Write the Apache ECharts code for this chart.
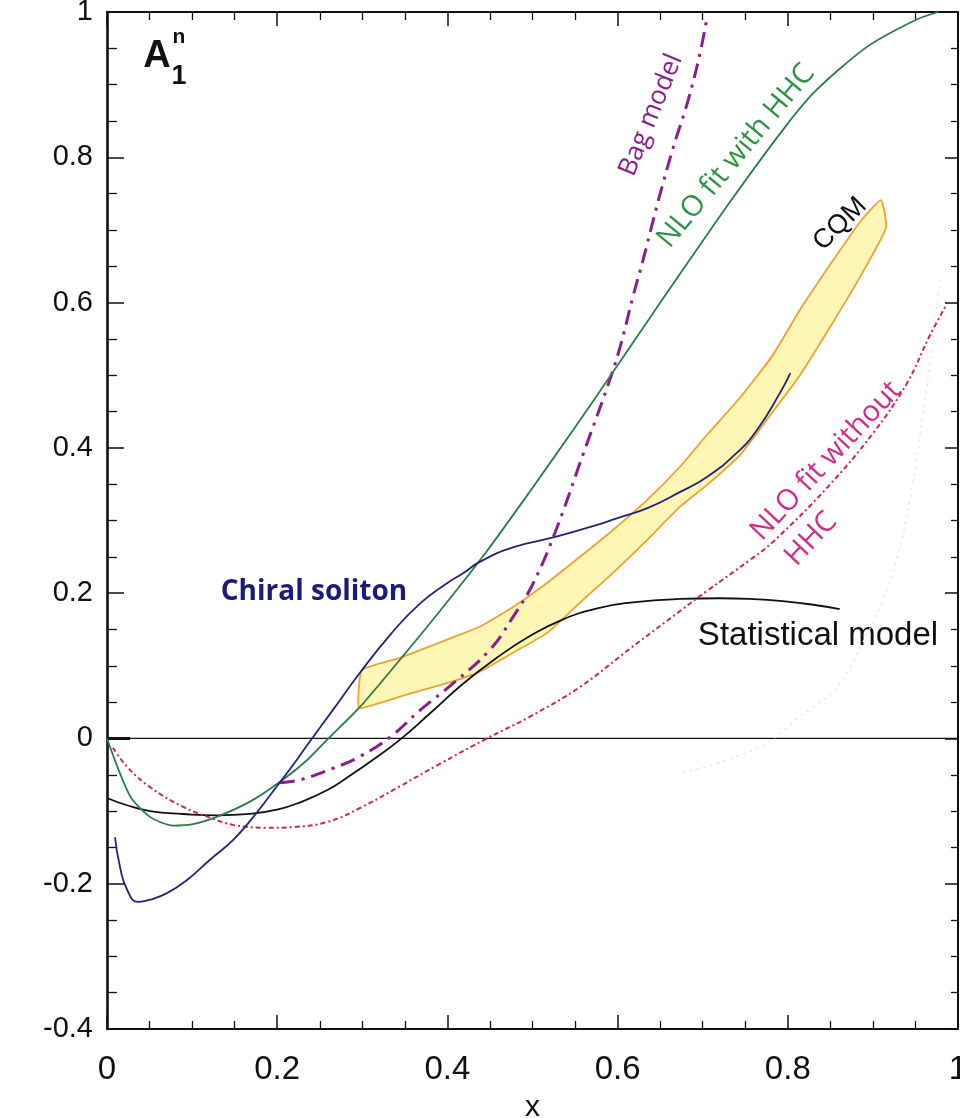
<!DOCTYPE html>
<html>
<head>
<meta charset="utf-8">
<script src="https://cdn.jsdelivr.net/npm/echarts@6/dist/echarts.min.js"></script>
<style>
  html, body { margin: 0; padding: 0; background: #ffffff; }
  #chart { width: 960px; height: 1118px; }
</style>
</head>
<body>
<div id="chart"></div>
<script>
// Neutron spin asymmetry A1^n versus x: model predictions and fits.

const xTickLabels = ['0', '0.2', '0.4', '0.6', '0.8', '1'];
const yTickLabels = ['-0.4', '-0.2', '0', '0.2', '0.4', '0.6', '0.8', '1'];

// NLO fit with hadron helicity conservation
const nloWithHHC = [
  [0, 0], [0.027, -0.079], [0.0505, -0.108], [0.0776, -0.120], [0.101, -0.118],
  [0.129, -0.108], [0.168, -0.087], [0.203, -0.060], [0.235, -0.030], [0.2585, -0.002],
  [0.297, 0.043], [0.344, 0.108], [0.391, 0.175], [0.4465, 0.258], [0.497, 0.340],
  [0.548, 0.425], [0.595, 0.505], [0.635, 0.574], [0.673, 0.639], [0.736, 0.745],
  [0.799, 0.845], [0.834, 0.893], [0.893, 0.952], [0.952, 0.990], [0.977, 1.0]
];

// NLO fit without hadron helicity conservation
const nloWithoutHHC = [
  [0.007, -0.013], [0.0235, -0.039], [0.0505, -0.067], [0.089, -0.094], [0.121, -0.109],
  [0.148, -0.119], [0.188, -0.123], [0.219, -0.122], [0.259, -0.115], [0.297, -0.096],
  [0.344, -0.066], [0.391, -0.035], [0.4465, 0.0], [0.497, 0.030], [0.556, 0.071],
  [0.615, 0.124], [0.673, 0.175], [0.705, 0.203], [0.756, 0.246], [0.783, 0.271],
  [0.846, 0.345], [0.900, 0.420], [0.940, 0.489], [0.967, 0.555], [0.985, 0.594]
];

// Chiral soliton model
const chiralSoliton = [
  [0.0094, -0.136], [0.0153, -0.177], [0.0235, -0.208], [0.0364, -0.225], [0.0505, -0.222],
  [0.0705, -0.213], [0.094, -0.195], [0.121, -0.167], [0.148, -0.140], [0.172, -0.108],
  [0.195, -0.073], [0.219, -0.036], [0.236, -0.008], [0.266, 0.040], [0.297, 0.090],
  [0.333, 0.143], [0.368, 0.186], [0.400, 0.214], [0.418, 0.227], [0.438, 0.243],
  [0.477, 0.263], [0.529, 0.278], [0.576, 0.294], [0.599, 0.303], [0.635, 0.317],
  [0.673, 0.339], [0.705, 0.360], [0.740, 0.393], [0.764, 0.425], [0.791, 0.476],
  [0.803, 0.503]
];

// Statistical model
const statisticalModel = [
  [0, -0.082], [0.0235, -0.092], [0.0505, -0.100], [0.089, -0.104], [0.129, -0.106],
  [0.168, -0.104], [0.200, -0.098], [0.227, -0.088], [0.259, -0.071], [0.282, -0.054],
  [0.313, -0.029], [0.344, -0.002], [0.380, 0.035], [0.418, 0.075], [0.458, 0.111],
  [0.497, 0.141], [0.536, 0.164], [0.576, 0.179], [0.615, 0.187], [0.673, 0.192],
  [0.720, 0.193], [0.756, 0.192], [0.794, 0.189], [0.830, 0.184], [0.861, 0.178]
];

// Bag model
const bagModel = [
  [0.203, -0.061], [0.227, -0.057], [0.266, -0.041], [0.297, -0.025], [0.333, 0.002],
  [0.368, 0.039], [0.407, 0.076], [0.450, 0.122], [0.477, 0.167], [0.501, 0.214],
  [0.529, 0.291], [0.560, 0.393], [0.588, 0.484], [0.603, 0.539], [0.618, 0.608],
  [0.630, 0.659], [0.648, 0.741], [0.665, 0.812], [0.683, 0.879], [0.697, 0.944],
  [0.705, 0.992]
];

// Constituent quark model band: upper and lower edges
const cqmUpper = [
  [0.2996, 0.094], [0.3443, 0.111], [0.3995, 0.136], [0.4383, 0.154], [0.4771, 0.181],
  [0.5170, 0.214], [0.5558, 0.250], [0.5946, 0.287], [0.6345, 0.328], [0.6733, 0.374],
  [0.7051, 0.418], [0.7438, 0.469], [0.7826, 0.528], [0.8143, 0.590], [0.8496, 0.652],
  [0.8848, 0.711], [0.9095, 0.741]
];
const cqmLower = [
  [0.2961, 0.042], [0.3208, 0.049], [0.3596, 0.063], [0.3995, 0.076], [0.4383, 0.092],
  [0.4771, 0.118], [0.5170, 0.145], [0.5558, 0.187], [0.5946, 0.228], [0.6345, 0.273],
  [0.6733, 0.319], [0.7051, 0.349], [0.7438, 0.390], [0.7756, 0.439], [0.8143, 0.500],
  [0.8531, 0.573], [0.8848, 0.635], [0.9154, 0.703]
];

// Faint dotted trace on the right
const faintTrace = [
  [0.677, -0.047], [0.767, -0.012], [0.814, 0.030], [0.858, 0.071], [0.888, 0.132],
  [0.912, 0.191], [0.928, 0.246], [0.944, 0.333], [0.964, 0.490], [0.979, 0.632]
];

const zeroLine = [[0, 0], [1, 0]];
const originStub = [[0, 0], [0.027, 0]];

const X_MIN = 0, X_MAX = 1, X_STEP = 0.2;
const Y_MIN = -0.4, Y_MAX = 1, Y_STEP = 0.2;

const axisColor = '#111111';
const tickFont = 'Liberation Sans, Arial, sans-serif';
const humanist = '"Open Sans", "Noto Sans", sans-serif';

function xLabel(v) { return xTickLabels[Math.round((v - X_MIN) / X_STEP)] ?? ''; }
function yLabel(v) { return yTickLabels[Math.round((v - Y_MIN) / Y_STEP)] ?? ''; }

function xAxisDef(pos, showLabels) {
  return {
    type: 'value', position: pos, min: X_MIN, max: X_MAX, interval: X_STEP,
    axisLine: { show: true, onZero: false, lineStyle: { color: axisColor, width: 2 } },
    axisTick: { show: true, inside: true, length: 14, lineStyle: { color: axisColor, width: 1.5 } },
    minorTick: { show: true, splitNumber: 4, length: 8, lineStyle: { color: axisColor, width: 1.3 } },
    splitLine: { show: false },
    axisLabel: {
      show: showLabels, formatter: xLabel, color: axisColor,
      fontFamily: tickFont, fontSize: 33, margin: 24
    },
    name: showLabels ? 'x' : '', nameLocation: 'middle', nameGap: 64,
    nameTextStyle: { color: axisColor, fontFamily: tickFont, fontSize: 30 }
  };
}

function yAxisDef(pos, showLabels, lineWidth, major, minor) {
  return {
    type: 'value', position: pos, min: Y_MIN, max: Y_MAX, interval: Y_STEP,
    axisLine: { show: true, onZero: false, lineStyle: { color: axisColor, width: lineWidth } },
    axisTick: { show: true, inside: true, length: major, lineStyle: { color: axisColor, width: 1.5 } },
    minorTick: { show: true, splitNumber: 4, length: minor, lineStyle: { color: axisColor, width: 1.3 } },
    splitLine: { show: false },
    axisLabel: {
      show: showLabels, formatter: yLabel, color: axisColor,
      fontFamily: tickFont, fontSize: 29, margin: 14
    }
  };
}

function curve(name, data, color, width, type, smooth, z) {
  return {
    name, type: 'line', data, xAxisIndex: 0, yAxisIndex: 0,
    showSymbol: false, symbol: 'none', smooth: smooth, z: z || 3,
    lineStyle: { color, width, type },
    emphasis: { disabled: true }, silent: true
  };
}

const chart = echarts.init(document.getElementById('chart'), null, { renderer: 'canvas' });

const option = {
  animation: false,
  backgroundColor: '#ffffff',
  grid: { left: 107, right: 2, top: 12, bottom: 89, containLabel: false, outerBoundsMode: 'none' },
  xAxis: [xAxisDef('bottom', true), xAxisDef('top', false)],
  yAxis: [yAxisDef('left', true, 2.6, 17, 10), yAxisDef('right', false, 2, 13, 7)],
  series: [
    {
      name: 'CQM', type: 'custom', xAxisIndex: 0, yAxisIndex: 0, z: 1, silent: true,
      data: [[0.6, 0.4]],
      renderItem: function (params, api) {
        const pts = cqmUpper.map(p => api.coord(p))
          .concat(cqmLower.slice().reverse().map(p => api.coord(p)));
        return {
          type: 'polygon',
          shape: { points: pts, smooth: 0.15 },
          style: { fill: '#fdf6b4', stroke: '#eda232', lineWidth: 1.8, lineJoin: 'miter' }
        };
      }
    },
    curve('zero', zeroLine, '#111111', 1.3, 'solid', false, 2),
    curve('origin', originStub, '#111111', 3, 'solid', false, 2),
    curve('faint', faintTrace, '#e3e3e3', 1.5, [2, 5], 0.4, 2),
    curve('Statistical model', statisticalModel, '#111111', 1.8, 'solid', 0.5),
    curve('NLO fit without HHC', nloWithoutHHC, '#d2225c', 2, [5, 3, 2, 3], 0.4),
    curve('Bag model', bagModel, '#8b1e8c', 3, [15, 7, 3, 7], 0.4),
    curve('NLO fit with HHC', nloWithHHC, '#2d7b47', 1.8, 'solid', 0.25),
    curve('Chiral soliton', chiralSoliton, '#24237c', 1.8, 'solid', 0.5)
  ],
  graphic: [
    { type: 'text', x: 157, y: 57, style: { text: 'A', fill: '#111', font: 'bold 38px Liberation Sans, Arial, sans-serif', align: 'center', verticalAlign: 'middle' } },
    { type: 'text', x: 179, y: 37, style: { text: 'n', fill: '#111', font: 'bold 21px Liberation Sans, Arial, sans-serif', align: 'center', verticalAlign: 'middle' } },
    { type: 'text', x: 179, y: 77, style: { text: '1', fill: '#111', font: 'bold 27px Liberation Sans, Arial, sans-serif', align: 'center', verticalAlign: 'middle' } },
    { type: 'text', x: 651, y: 115, rotation: 67.8 * Math.PI / 180, style: { text: 'Bag model', fill: '#8b1e8c', font: '26px ' + humanist, align: 'center', verticalAlign: 'middle' } },
    { type: 'text', x: 736, y: 156, rotation: 50.3 * Math.PI / 180, style: { text: 'NLO fit with HHC', fill: '#2b9345', font: '29px ' + humanist, align: 'center', verticalAlign: 'middle' } },
    { type: 'text', x: 840, y: 224, rotation: 45 * Math.PI / 180, style: { text: 'CQM', fill: '#111', font: '27px Liberation Sans, Arial, sans-serif', align: 'center', verticalAlign: 'middle' } },
    { type: 'text', x: 826, y: 461, rotation: 47 * Math.PI / 180, style: { text: 'NLO fit without', fill: '#d42a8c', font: '29px ' + humanist, align: 'center', verticalAlign: 'middle' } },
    { type: 'text', x: 811, y: 539, rotation: 47 * Math.PI / 180, style: { text: 'HHC', fill: '#d42a8c', font: '29px ' + humanist, align: 'center', verticalAlign: 'middle' } },
    { type: 'text', x: 314, y: 592, style: { text: 'Chiral soliton', fill: '#1c1b7c', font: 'bold 28px ' + humanist, align: 'center', verticalAlign: 'middle' } },
    { type: 'text', x: 818, y: 636, style: { text: 'Statistical model', fill: '#111', font: '33px Liberation Sans, Arial, sans-serif', align: 'center', verticalAlign: 'middle' } }
  ]
};

chart.setOption(option);
</script>
</body>
</html>
